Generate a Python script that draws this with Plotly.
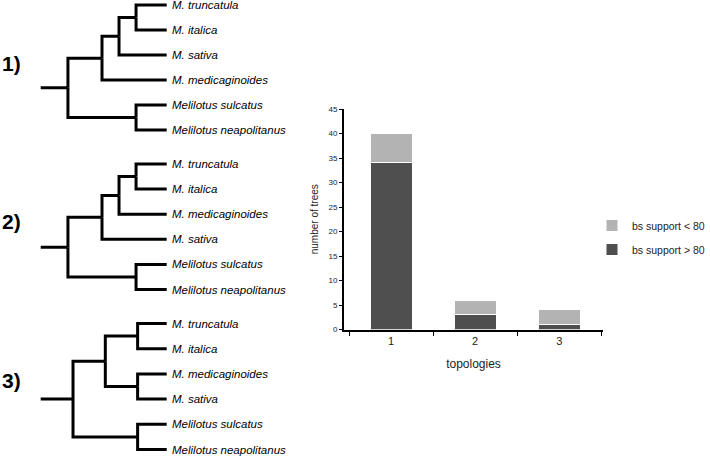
import plotly.graph_objects as go

# ---------------- data ----------------
topologies = ["1", "2", "3"]
bs_high = [34, 3, 1]      # bs support > 80
bs_low = [6, 3, 3]        # bs support < 80 (stacked on top)

tree_labels = ["1)", "2)", "3)"]

# trees: (name, branch length, children)
TREE_1 = ("", 0.8, [
    ("", 1.0, [
        ("", 0.5, [
            ("", 0.5, [("M. truncatula", 0.9, []), ("M. italica", 0.9, [])]),
            ("M. sativa", 1.4, [])]),
        ("M. medicaginoides", 1.9, [])]),
    ("", 2.0, [("Melilotus sulcatus", 0.9, []), ("Melilotus neapolitanus", 0.9, [])])])

TREE_2 = ("", 0.8, [
    ("", 1.0, [
        ("", 0.5, [
            ("", 0.5, [("M. truncatula", 0.9, []), ("M. italica", 0.9, [])]),
            ("M. medicaginoides", 1.4, [])]),
        ("M. sativa", 1.9, [])]),
    ("", 2.0, [("Melilotus sulcatus", 0.9, []), ("Melilotus neapolitanus", 0.9, [])])])

TREE_3 = ("", 1.0, [
    ("", 1.0, [
        ("", 1.0, [("M. truncatula", 0.9, []), ("M. italica", 0.9, [])]),
        ("", 1.0, [("M. medicaginoides", 0.9, []), ("M. sativa", 0.9, [])])]),
    ("", 2.0, [("Melilotus sulcatus", 0.9, []), ("Melilotus neapolitanus", 0.9, [])])])

trees = [TREE_1, TREE_2, TREE_3]

# ---------------- layout helpers ----------------
W, H = 710, 456
FONT = "Liberation Sans, Arial, sans-serif"


def layout_tree(node, x0, leaves, xs, ys):
    name, length, children = node
    x = x0 + length
    if not children:
        y = len(leaves)
        leaves.append((name, x, y))
        return x, y
    child_pos = [layout_tree(c, x, leaves, xs, ys) for c in children]
    y = (child_pos[0][1] + child_pos[-1][1]) / 2.0
    for cx, cy in child_pos:
        xs += [x, x, cx, None]
        ys += [y, cy, cy, None]
    return x, y


fig = go.Figure()

# bars
fig.add_trace(go.Bar(x=topologies, y=bs_high, name="bs support > 80",
                     marker=dict(color="#4f4f4f", line=dict(color="#ffffff", width=1)),
                     width=0.5, legendgroup="g2", legendrank=2))
fig.add_trace(go.Bar(x=topologies, y=bs_low, name="bs support < 80",
                     marker=dict(color="#b3b3b3", line=dict(color="#ffffff", width=1)),
                     width=0.5, legendgroup="g1", legendrank=1))

# tree panel placement (pixels)
tree_px = [  # (top leaf y, bottom leaf y, label y)
    (5, 130, 63),
    (164, 289.5, 221.5),
    (323.5, 449.5, 380),
]
X_LEFT, X_RIGHT = 40.7, 166.7
annotations = []
layout_axes = {}

for i, (tree, (ty, by, ly)) in enumerate(zip(trees, tree_px)):
    leaves, xs, ys = [], [], []
    rx, ry = layout_tree(tree, 0.0, leaves, xs, ys)
    rlen = tree[1]
    xs += [0.0, rlen, None]
    ys += [ry, ry, None]
    total = max(l[1] for l in leaves)
    nleaf = len(leaves) - 1
    ax = i + 2
    fig.add_trace(go.Scatter(x=xs, y=ys, mode="lines",
                             line=dict(color="black", width=3),
                             xaxis=f"x{ax}", yaxis=f"y{ax}",
                             showlegend=False, hoverinfo="skip"))
    sx = (X_RIGHT - X_LEFT) / total
    pad = 4
    sy = (by - ty) / nleaf
    layout_axes[f"xaxis{ax}"] = dict(
        domain=[(X_LEFT - pad) / W, (X_RIGHT + pad) / W],
        range=[-pad / sx, total + pad / sx], visible=False, anchor=f"y{ax}")
    layout_axes[f"yaxis{ax}"] = dict(
        domain=[1 - (by + pad) / H, min(1, 1 - (ty - pad) / H)],
        range=[nleaf + pad / sy, -pad / sy], visible=False, anchor=f"x{ax}")
    for name, lx, lyy in leaves:
        annotations.append(dict(x=lx, y=lyy, xref=f"x{ax}", yref=f"y{ax}",
                                text=f"<i>{name}</i>", showarrow=False,
                                xanchor="left", yanchor="middle", xshift=3,
                                font=dict(family=FONT, size=11.5, color="black")))
    annotations.append(dict(x=0, y=1 - ly / H, xref="paper", yref="paper",
                            text=f"<b>{tree_labels[i]}</b>", showarrow=False,
                            xanchor="left", yanchor="middle",
                            font=dict(family=FONT, size=21, color="black")))

fig.update_layout(
    template="none",
    width=W, height=H,
    margin=dict(l=0, r=0, t=0, b=0, autoexpand=False),
    paper_bgcolor="white", plot_bgcolor="white",
    barmode="stack",
    font=dict(family=FONT, color="#222222"),
    xaxis=dict(type="category", domain=[344 / W, 603 / W], range=[-0.56, 2.52],
               showline=True, linecolor="black", linewidth=2,
               ticks="outside", tickson="boundaries", ticklen=4, tickcolor="black",
               tickfont=dict(size=11, color="#222222"), showgrid=False,
               title=dict(text="topologies", font=dict(size=12, color="#222222"),
                          standoff=14)),
    yaxis=dict(domain=[1 - 329.5 / H, 1 - 109 / H], range=[0, 45], dtick=5,
               showline=True, linecolor="black", linewidth=2,
               ticks="outside", ticklen=3, tickcolor="black",
               tickfont=dict(size=8, color="#222222"), showgrid=False, zeroline=False,
               title=dict(text="number of trees", font=dict(size=10, color="#222222"),
                          standoff=8)),
    legend=dict(x=1, y=1 - 211 / H, xanchor="right", yanchor="top",
                traceorder="grouped", tracegroupgap=5,
                font=dict(size=10.5, color="#222222"), bgcolor="rgba(0,0,0,0)"),
    annotations=annotations,
    **layout_axes,
)

fig.write_html("out.html", config={"displayModeBar": False},
               post_script="document.body.style.margin='0px';")
